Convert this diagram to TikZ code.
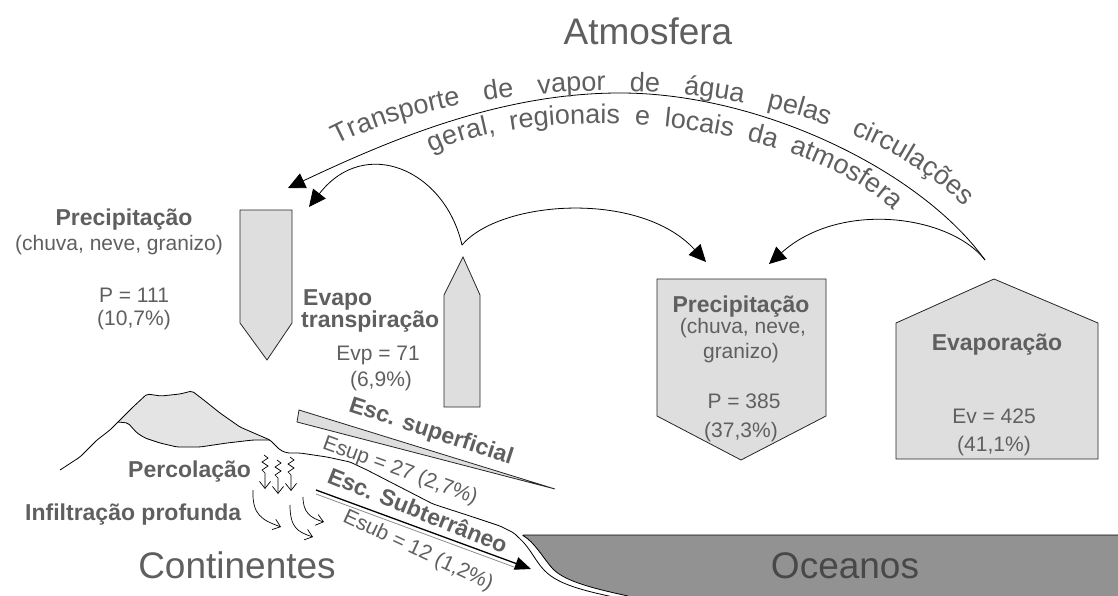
\documentclass[tikz,border=0pt]{standalone}
\usepackage{fontspec}
\setmainfont{Liberation Sans}
\usetikzlibrary{arrows.meta,decorations.text}
\definecolor{txtgray}{RGB}{95,95,95}
\definecolor{boxgray}{RGB}{222,222,222}
\definecolor{capgray}{RGB}{228,228,228}
\definecolor{seagray}{RGB}{146,146,146}
\definecolor{seatext}{RGB}{72,72,72}
\def\fsz#1{\fontsize{#1}{#1}\selectfont}
\def\zigseep(#1,#2){\draw[seep] (#1,#2) -- ++(4,3) -- ++(-6,4) -- ++(6,4) -- ++(-6,4) -- ++(3,3) -- ++(0,16);}
\tikzset{
	lbl/.style={text=txtgray, inner sep=0pt, anchor=base, font=\fsz{21}},
	blbl/.style={lbl, font=\fsz{23}\bfseries},
	big/.style={lbl, font=\fsz{37}},
	flowbox/.style={draw=black!85, fill=boxgray, line width=0.8pt},
	flowarc/.style={line width=0.8pt, -{Triangle[length=17pt,width=16pt]}},
	seep/.style={line width=0.7pt, -{Straight Barb[length=7pt,width=11pt]}},
	ground/.style={line width=0.8pt, rounded corners=2pt},
}

\begin{document}
\begin{tikzpicture}[x=1pt,y=-1pt]
			%%%%% START %%%%%
			\useasboundingbox (0,0) rectangle (1118,596);
			
			% ocean
			\fill[seagray] (522,535) -- (1118,535) -- (1118,596) -- (628,596) .. controls (596,589) and (566,582) .. (552,568) .. controls (542,556) and (534,542) .. cycle;
			\draw[ground] (1118,535) -- (522,535) .. controls (534,542) and (542,556) .. (552,568) .. controls (566,582) and (596,589) .. (628,596);
			
			% land and mountain
			\fill[capgray] (118,422) -- (133,407) -- (147,394) -- (161,396) -- (180,394) -- (192,391) -- (205,401) -- (220,413) -- (240,427) -- (263,437) -- (270,440) -- (253,440) -- (227,443) -- (200,447) -- (177,447) -- (160,443) -- (145,438) -- (137,433) -- (128,423) -- cycle;
			\draw[ground] (118,422) -- (128,423) -- (137,433) -- (145,438) -- (160,443) -- (177,447) -- (200,447) -- (227,443) -- (253,440) -- (270,440);
			\draw[ground] (60,470) -- (80,457) -- (97,440) -- (110,430) -- (118,422) -- (133,407) -- (147,394) -- (161,396) -- (180,394) -- (192,391) -- (205,401) -- (220,413) -- (240,427) -- (263,437) -- (270,440) -- (280,450) -- (287,453) -- (300,453) -- (327,457) -- (350,462) -- (367,470) -- (400,487) -- (433,504) -- (473,517) -- (500,526) -- (514,533) -- (519,538) .. controls (530,548) and (536,562) .. (546,572) .. controls (562,586) and (590,592) .. (618,598);
			
			% arrow boxes
			\filldraw[flowbox] (240,210) -- (292,210) -- (292,323) -- (267,360) -- (240,323) -- cycle;
			\filldraw[flowbox] (444,407) -- (480,407) -- (480,295) -- (463,257) -- (444,295) -- cycle;
			\filldraw[flowbox] (657,279) -- (826,279) -- (826,416) -- (741,460) -- (657,416) -- cycle;
			\filldraw[flowbox] (896,459) -- (1098,459) -- (1098,323) -- (994,279) -- (896,323) -- cycle;
			
			% arcs
			\coordinate (evapTop) at (985,260);
			\coordinate (evpTop) at (462,245);
			\coordinate (bigTop) at (620,93);
			\coordinate (precLa) at (288,188);
			\coordinate (precLb) at (309,207);
			\coordinate (precRa) at (706,262);
			\coordinate (precRb) at (769,264);
			\draw[flowarc] (evapTop) .. controls (920,170) and (760,93) .. (bigTop) .. controls (500,93) and (390,140) .. (precLa);
			\draw[flowarc] (evpTop) .. controls (445,170) and (365,135) .. (precLb);
			\draw[flowarc] (evpTop) .. controls (500,200) and (640,190) .. (precRa);
			\draw[flowarc] (evapTop) .. controls (950,215) and (840,200) .. (precRb);
			
			% curved title
			\coordinate (trA) at (337,145);
			\coordinate (trB) at (964,206);
			\coordinate (geA) at (432,153);
			\coordinate (geB) at (893,211);
			\path[decorate, decoration={text along path, text color=txtgray, text align={fit to path stretching spaces}, text={|\fsz{27}|Transporte de vapor de água pelas circulações}}] (trA) .. controls (470,75) and (805,52) .. (trB);
			\path[decorate, decoration={text along path, text color=txtgray, text align={fit to path stretching spaces}, text={|\fsz{27}|geral, regionais e locais da atmosfera}}] (geA) .. controls (540,100) and (800,118) .. (geB);
			
			% runoff
			\filldraw[flowbox] (299,410) -- (555,489) -- (297,422) -- cycle;
			\coordinate (subA) at (316,490);
			\coordinate (subB) at (531,569);
			\draw[black!45, line width=0.8pt] (316,494) -- (514,567);
			\draw[line width=1.3pt, -{Triangle[length=16pt,width=13pt]}] (subA) -- (subB);
			
			% percolation
			\zigseep(264,455)
			\zigseep(277,460)
			\zigseep(290,457)
			\draw[seep] (253,490) .. controls (252,515) and (262,520) .. (281,527);
			\draw[seep] (290,505) .. controls (290,528) and (298,532) .. (313,537);
			\draw[seep] (303,497) .. controls (303,512) and (310,518) .. (324,522);
			
			% labels
			\node[big] (atmos) at (648,45) {Atmosfera};
			\node[blbl] (precLtit) at (124,225) {Precipitação};
			\node[lbl] (precLsub) at (119,250) {(chuva, neve, granizo)};
			\node[lbl] (precLval) at (134,302) {P = 111};
			\node[lbl] (precLpct) at (134,325) {(10,7\%)};
			\node[blbl, anchor=base west] (evpTit) at (303,305) {Evapo};
			\node[blbl, anchor=base west] (evpTitb) at (301,327) {transpiração};
			\node[lbl] (evpVal) at (378,360) {Evp = 71};
			\node[lbl] (evpPct) at (381,386) {(6,9\%)};
			
			\node[blbl] (precRtit) at (741,312) {Precipitação};
			\node[lbl] (precRsub) at (743,333) {(chuva, neve,};
			\node[lbl] (precRsubb) at (741,358) {granizo)};
			\node[lbl] (precRval) at (744,408) {P = 385};
			\node[lbl] (precRpct) at (741,437) {(37,3\%)};
			
			\node[blbl] (evapTit) at (997,350) {Evaporação};
			\node[lbl] (evapVal) at (994,423) {Ev = 425};
			\node[lbl] (evapPct) at (994,451) {(41,1\%)};
			
			\node[blbl, anchor=base west] (percol) at (128,477) {Percolação};
			\node[blbl, anchor=base west] (infil) at (25,520) {Infiltração profunda};
			\node[blbl, anchor=center, rotate=-18] (escSup) at (431,432) {Esc. superficial};
			\node[lbl, anchor=center, rotate=-20] (escSupVal) at (400,471) {Esup = 27 (2,7\%)};
			\node[blbl, anchor=center, rotate=-22] (escSub) at (418,510) {Esc. Subterrâneo};
			\node[lbl, anchor=center, rotate=-25] (escSubVal) at (418,551) {Esub = 12 (1,2\%)};
			
			\node[big] (cont) at (237,578) {Continentes};
			\node[big, text=seatext] (ocean) at (845,578) {Oceanos};
			%%%%% END %%%%%
\end{tikzpicture}
\end{document}
